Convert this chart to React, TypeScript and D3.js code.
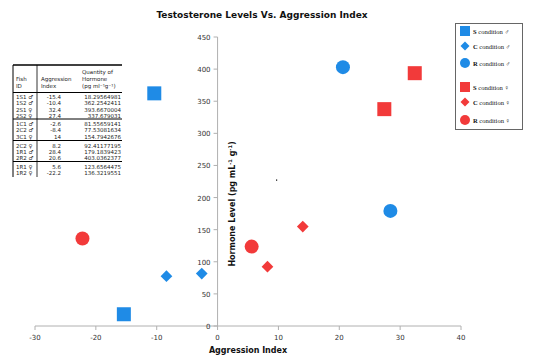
import * as d3 from "d3";

// table / data
const fishIds = ["1S1 ♂", "1S2 ♂", "2S1 ♀", "2S2 ♀", "1C1 ♂", "2C2 ♂", "3C1 ♀", "2C2 ♀", "1R1 ♂", "2R2 ♂", "1R1 ♀", "1R2 ♀"];
const conditions = ["S", "S", "S", "S", "C", "C", "C", "C", "R", "R", "R", "R"];
const sexes = ["m", "m", "f", "f", "m", "m", "f", "f", "m", "m", "f", "f"];
const aggression = [-15.4, -10.4, 32.4, 27.4, -2.6, -8.4, 14, 8.2, 28.4, 20.6, 5.6, -22.2];
const hormoneText = [
	"18.29564981", "362.2542411", "393.6670004", "337.679031",
	"81.55659141", "77.53081634", "154.7942676", "92.41177195",
	"179.1839423", "403.0362377", "123.6564475", "136.3219551",
];
const hormone = hormoneText.map(Number);

const xTicks = [-30, -20, -10, 0, 10, 20, 30, 40];
const yTicks = [0, 50, 100, 150, 200, 250, 300, 350, 400, 450];

const legendItems = [
	{ cond: "S", sex: "m" },
	{ cond: "C", sex: "m" },
	{ cond: "R", sex: "m" },
	{ cond: "S", sex: "f" },
	{ cond: "C", sex: "f" },
	{ cond: "R", sex: "f" },
];

const BLUE = "#1f8be6";
const RED = "#f23a3a";
const sans = "Verdana, 'DejaVu Sans', sans-serif";

function Marker({ cond, x, y, s, fill }: { cond: string; x: number; y: number; s: number; fill: string }) {
	if (cond === "S") return <rect x={x - s / 2} y={y - s / 2} width={s} height={s} fill={fill} />;
	if (cond === "R") return <circle cx={x} cy={y} r={s / 2} fill={fill} />;
	const h = s * 0.45;
	return <path d={`M${x},${y - h}L${x + h},${y}L${x},${y + h}L${x - h},${y}Z`} fill={fill} />;
}

export default function App() {
	const width = 538;
	const height = 362;

	const xScale = d3.scaleLinear().domain([-30, 40]).range([35, 461]);
	const yScale = d3.scaleLinear().domain([0, 450]).range([326, 37]);
	const x0 = xScale(0);
	const y0 = yScale(0);
	const axisColor = "#b0b0b0";

	// table row positions
	const rowY = [97, 103.5, 110, 116, 124, 130.5, 137, 146, 152, 158.5, 167, 173];
	const sepY = [119, 140.5, 161.5];
	const tblL = 13;
	const tblR = 122;

	return (
		<svg width={width} height={height} style={{ position: "absolute", left: 0, top: 0, background: "#fff" }}>
			<text x={262} y={18} textAnchor="middle" fontFamily={sans} fontWeight="bold" fontSize={9} fill="#111">
				Testosterone Levels Vs. Aggression Index
			</text>

			{/* x axis */}
			<line x1={xScale(-30)} x2={xScale(40)} y1={y0} y2={y0} stroke={axisColor} />
			{xTicks.map((t) => (
				<g key={t}>
					<line x1={xScale(t)} x2={xScale(t)} y1={y0} y2={y0 + 4} stroke={axisColor} />
					<text x={xScale(t)} y={y0 + 14} textAnchor="middle" fontFamily={sans} fontSize={7} fill="#333">
						{t}
					</text>
				</g>
			))}
			<text x={248} y={353} textAnchor="middle" fontFamily={sans} fontWeight="bold" fontSize={8} fill="#111">
				Aggression Index
			</text>

			{/* y axis */}
			<line x1={x0} x2={x0} y1={yScale(450)} y2={y0} stroke={axisColor} />
			{yTicks.map((t) => (
				<g key={t}>
					<line x1={x0 - 4} x2={x0} y1={yScale(t)} y2={yScale(t)} stroke={axisColor} />
					<text x={x0 - 7} y={yScale(t) + 3} textAnchor="end" fontFamily={sans} fontSize={7} fill="#333">
						{t}
					</text>
				</g>
			))}
			<text
				transform={`translate(235,204) rotate(-90)`}
				textAnchor="middle"
				fontFamily={sans}
				fontWeight="bold"
				fontSize={8}
				fill="#111"
			>
				Hormone Level (pg mL<tspan dy={-3} fontSize={5}>-1</tspan>
				<tspan dy={3}> g</tspan>
				<tspan dy={-3} fontSize={5}>-1</tspan>
				<tspan dy={3}>)</tspan>
			</text>

			{/* stray dot */}
			<rect x={276} y={179.5} width={1.2} height={1.2} fill="#000" />

			{/* points */}
			{aggression.map((a, i) => (
				<Marker
					key={i}
					cond={conditions[i]}
					x={xScale(a)}
					y={yScale(hormone[i])}
					s={conditions[i] === "C" ? 13 : 14}
					fill={sexes[i] === "m" ? BLUE : RED}
				/>
			))}

			{/* table */}
			<g fontFamily={sans} fontSize={5.5} fill="#222">
				<line x1={tblL} x2={tblR} y1={65} y2={65} stroke="#000" strokeWidth={1.3} />
				<line x1={tblL} x2={tblR} y1={92.5} y2={92.5} stroke="#000" strokeWidth={1} />
				{sepY.map((s) => (
					<line key={s} x1={tblL} x2={tblR} y1={s} y2={s} stroke="#000" strokeWidth={1} />
				))}
				<line x1={tblL} x2={tblL} y1={65} y2={177} stroke="#000" strokeWidth={1} />
				<line x1={37} x2={37} y1={65} y2={177} stroke="#000" strokeWidth={0.8} />
				<text x={16} y={81}>Fish</text>
				<text x={16} y={88}>ID</text>
				<text x={41} y={81}>Aggression</text>
				<text x={41} y={88}>Index</text>
				<text x={82} y={74}>Quantity of</text>
				<text x={82} y={81}>Hormone</text>
				<text x={82} y={88}>(pg ml⁻¹g⁻¹)</text>
				{fishIds.map((id, i) => (
					<g key={i}>
						<text x={16} y={rowY[i] + 1.5}>{id}</text>
						<text x={61} y={rowY[i] + 1.5} textAnchor="end">
							{aggression[i]}
						</text>
						<text x={121} y={rowY[i] + 1.5} textAnchor="end">
							{hormoneText[i]}
						</text>
					</g>
				))}
			</g>

			{/* legend */}
			<rect x={455.5} y={23.5} width={67} height={106} fill="#fff" stroke="#666" strokeWidth={1} />
			{legendItems.map((it, i) => {
				const ly = [31, 46, 63, 87, 102, 120][i];
				return (
					<g key={i}>
						<Marker cond={it.cond} x={465} y={ly} s={10} fill={it.sex === "m" ? BLUE : RED} />
						<text x={473} y={ly + 2.5} fontFamily="'Liberation Serif', serif" fontSize={6.5} fill="#111">
							<tspan fontWeight="bold">{it.cond}</tspan> condition {it.sex === "m" ? "♂" : "♀"}
						</text>
					</g>
				);
			})}
		</svg>
	);
}
